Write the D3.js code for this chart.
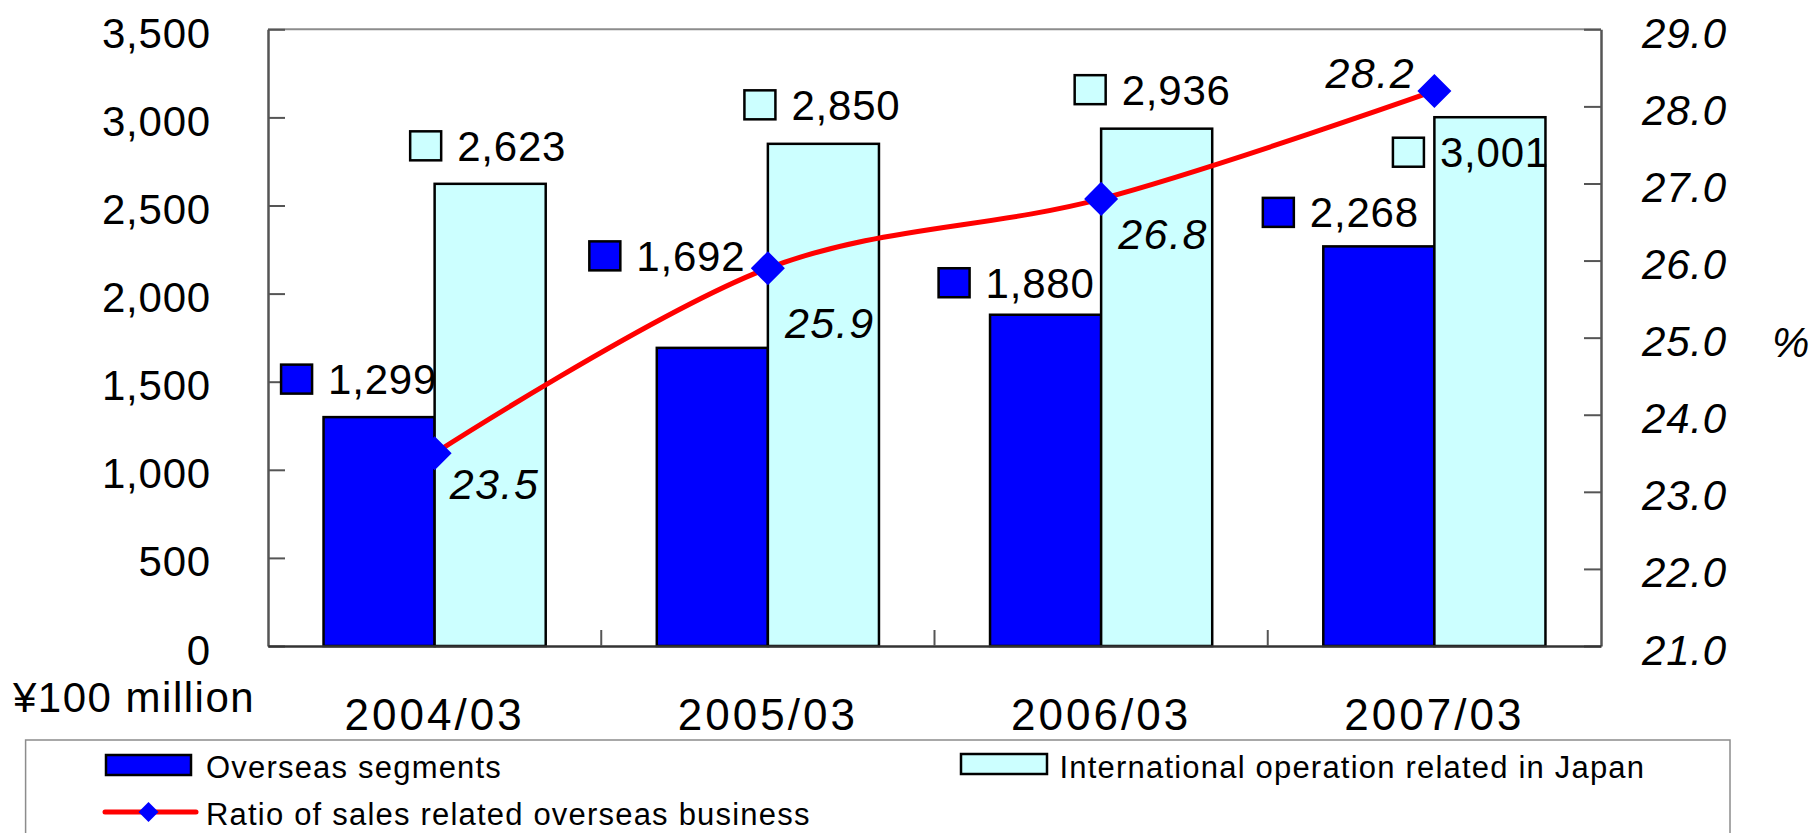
<!DOCTYPE html>
<html>
<head>
<meta charset="utf-8">
<script src="https://cdn.jsdelivr.net/npm/d3@7"></script>
<style>
    body { margin: 0; background: #fff; }
    svg text { font-family: "Liberation Sans", Arial, sans-serif; fill: #000; }
</style>
</head>
<body>
<svg id="chart" width="1816" height="833"></svg>
<script>
// chart data
const periods = ["2004/03", "2005/03", "2006/03", "2007/03"];
const overseasSales = [1299, 1692, 1880, 2268];
const intlJapanSales = [2623, 2850, 2936, 3001];
const overseasRatio = [23.5, 25.9, 26.8, 28.2];
const leftTicks = [0, 500, 1000, 1500, 2000, 2500, 3000, 3500];
const rightTicks = [21, 22, 23, 24, 25, 26, 27, 28, 29];
const seriesNames = ["Overseas segments", "International operation related in Japan", "Ratio of sales related overseas business"];

// where the data labels sit (box left / label middle, relative to the bar top or marker)
const blueLabelShift = [[-98, -38], [-123, -92], [-107, -32], [-116, -34]];
const cyanLabelShift = [[-80, -38], [-79, -39], [-82, -39], [-97, 35]];
const ratioLabelShift = [[15, 30], [17, 54], [17, 35], [-109, -18]];

const BLUE = "#0000ff", CYAN = "#ccffff", RED = "#ff0000";
const plot = {left: 268, right: 1601, top: 29.3, bottom: 646};

const svg = d3.select("#chart");
svg.append("rect").attr("width", 1816).attr("height", 833).attr("fill", "#fff");

const x = d3.scaleBand().domain(periods).range([plot.left, plot.right]);
const xSub = d3.scaleBand().domain(["overseas", "intl"]).range([0, x.bandwidth()]).paddingOuter(0.5);
const yLeft = d3.scaleLinear().domain([0, 3500]).range([plot.bottom, plot.top]);
const yRight = d3.scaleLinear().domain([21, 29]).range([plot.bottom, plot.top]);

// top border of the plot
svg.append("line")
    .attr("x1", plot.left).attr("x2", plot.right)
    .attr("y1", plot.top).attr("y2", plot.top)
    .attr("stroke", "#8c8c8c").attr("stroke-width", 2);

// left axis
const gLeft = svg.append("g")
    .attr("transform", `translate(${plot.left},0)`)
    .call(d3.axisLeft(yLeft).tickValues(leftTicks).tickFormat(d3.format(",")).tickSizeInner(-17).tickSizeOuter(0).tickPadding(57));
gLeft.selectAll("text").attr("font-size", 42).attr("letter-spacing", 0.8).attr("dy", "0.43em");

// right axis
const gRight = svg.append("g")
    .attr("transform", `translate(${plot.right},0)`)
    .call(d3.axisRight(yRight).tickValues(rightTicks).tickFormat(d3.format(".1f")).tickSizeInner(-17).tickSizeOuter(0).tickPadding(41));
gRight.selectAll("text").attr("font-size", 42).attr("font-style", "italic").attr("letter-spacing", 0.8).attr("dy", "0.43em");

[gLeft, gRight].forEach(g => {
    g.select(".domain").attr("stroke", "#555").attr("stroke-width", 2.5);
    g.selectAll(".tick line").attr("stroke", "#555").attr("stroke-width", 2);
});

// bars
const groups = svg.append("g").selectAll("g")
    .data(periods)
    .join("g")
    .attr("transform", d => `translate(${x(d)},0)`);

groups.append("rect")
    .attr("x", xSub("overseas"))
    .attr("width", xSub.bandwidth())
    .attr("y", (d, i) => yLeft(overseasSales[i]))
    .attr("height", (d, i) => plot.bottom - yLeft(overseasSales[i]))
    .attr("fill", BLUE).attr("stroke", "#000").attr("stroke-width", 2.5);

groups.append("rect")
    .attr("x", xSub("intl"))
    .attr("width", xSub.bandwidth())
    .attr("y", (d, i) => yLeft(intlJapanSales[i]))
    .attr("height", (d, i) => plot.bottom - yLeft(intlJapanSales[i]))
    .attr("fill", CYAN).attr("stroke", "#000").attr("stroke-width", 2.5);

// bottom axis with boundary ticks between the categories
const gBottom = svg.append("g")
    .attr("transform", `translate(0,${plot.bottom})`)
    .call(d3.axisBottom(x).tickSize(0).tickPadding(53));
gBottom.select(".domain").attr("stroke", "#333").attr("stroke-width", 2.5);
gBottom.selectAll("text").attr("font-size", 44).attr("letter-spacing", 3);
gBottom.selectAll(".boundary")
    .data(periods.slice(1))
    .join("line")
    .attr("class", "boundary")
    .attr("x1", d => x(d)).attr("x2", d => x(d))
    .attr("y1", 0).attr("y2", -16)
    .attr("stroke", "#555").attr("stroke-width", 2);

// ratio line
const cx = p => x(p) + x.bandwidth() / 2;
const line = d3.line()
    .x((d, i) => cx(periods[i]))
    .y(d => yRight(d))
    .curve(d3.curveCardinal.tension(0));

svg.append("path")
    .datum(overseasRatio)
    .attr("d", line)
    .attr("fill", "none")
    .attr("stroke", RED)
    .attr("stroke-width", 5)
    .attr("stroke-linejoin", "round");

const diamond = d3.symbol().type(d3.symbolSquare).size(580);
svg.append("g").selectAll("path")
    .data(overseasRatio)
    .join("path")
    .attr("d", diamond)
    .attr("transform", (d, i) => `translate(${cx(periods[i])},${yRight(d)}) rotate(45)`)
    .attr("fill", BLUE);

// data labels for the bars: legend key + value
function barLabels(values, shifts, sub, fill) {
    const g = svg.append("g").selectAll("g")
        .data(values)
        .join("g")
        .attr("transform", (d, i) => {
            const bx = x(periods[i]) + xSub(sub) + xSub.bandwidth() / 2;
            return `translate(${bx + shifts[i][0]},${yLeft(d) + shifts[i][1]})`;
        });
    g.append("rect")
        .attr("x", 0).attr("y", -14.5)
        .attr("width", 31).attr("height", 29)
        .attr("fill", fill).attr("stroke", "#000").attr("stroke-width", 2.5);
    g.append("text")
        .attr("x", 47).attr("y", 15)
        .attr("font-size", 42).attr("letter-spacing", 0.8)
        .text(d => d3.format(",")(d));
}
barLabels(overseasSales, blueLabelShift, "overseas", BLUE);
barLabels(intlJapanSales, cyanLabelShift, "intl", CYAN);

// ratio labels
svg.append("g").selectAll("text")
    .data(overseasRatio)
    .join("text")
    .attr("x", (d, i) => cx(periods[i]) + ratioLabelShift[i][0])
    .attr("y", (d, i) => yRight(d) + ratioLabelShift[i][1] + 15.5)
    .attr("font-size", 43).attr("font-style", "italic").attr("letter-spacing", 1.5)
    .text(d => d.toFixed(1));

// unit labels
svg.append("text")
    .attr("x", 13).attr("y", 712)
    .attr("font-size", 42).attr("letter-spacing", 1.5)
    .text("¥100 million");
svg.append("text")
    .attr("x", 1772).attr("y", yRight(25) + 19)
    .attr("font-size", 42).attr("font-style", "italic")
    .text("%");

// legend
const legend = svg.append("g");
legend.append("rect")
    .attr("x", 25.6).attr("y", 740)
    .attr("width", 1704.4).attr("height", 140)
    .attr("fill", "#fff").attr("stroke", "#8c8c8c").attr("stroke-width", 1.5);

legend.append("rect")
    .attr("x", 106).attr("y", 755).attr("width", 85).attr("height", 20)
    .attr("fill", BLUE).attr("stroke", "#000").attr("stroke-width", 2.5);
legend.append("rect")
    .attr("x", 961).attr("y", 754).attr("width", 86).attr("height", 20)
    .attr("fill", CYAN).attr("stroke", "#000").attr("stroke-width", 2.5);
legend.append("line")
    .attr("x1", 105).attr("x2", 196).attr("y1", 812).attr("y2", 812)
    .attr("stroke", RED).attr("stroke-width", 5).attr("stroke-linecap", "round");
legend.append("path")
    .attr("d", d3.symbol().type(d3.symbolSquare).size(200))
    .attr("transform", "translate(148.5,812) rotate(45)")
    .attr("fill", BLUE);

const legendPos = [[206, 778], [1059.5, 778], [206, 825]];
legend.selectAll("text")
    .data(seriesNames)
    .join("text")
    .attr("x", (d, i) => legendPos[i][0])
    .attr("y", (d, i) => legendPos[i][1])
    .attr("font-size", 31).attr("letter-spacing", 1.2)
    .text(d => d);
</script>
</body>
</html>
